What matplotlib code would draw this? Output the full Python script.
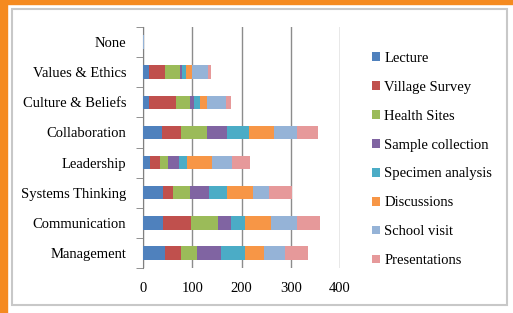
import numpy as np
import matplotlib.pyplot as plt
from matplotlib.patches import Rectangle

categories = ["None", "Values & Ethics", "Culture & Beliefs", "Collaboration",
              "Leadership", "Systems Thinking", "Communication", "Management"]
series = ["Lecture", "Village Survey", "Health Sites", "Sample collection",
          "Specimen analysis", "Discussions", "School visit", "Presentations"]

lecture       = [0, 12, 12, 39, 15, 41, 41, 44]
village       = [0, 33, 54, 38, 19, 19, 57, 34]
health        = [0, 30, 30, 53, 16, 36, 54, 32]
sample        = [0, 5, 8, 41, 23, 39, 27, 49]
specimen      = [0, 8, 11, 45, 16, 36, 28, 48]
discussions   = [0, 12, 14, 50, 51, 53, 53, 38]
school        = [2, 32, 40, 47, 41, 32, 53, 44]
presentations = [0, 6, 9, 43, 36, 47, 46, 46]

values = [lecture, village, health, sample, specimen, discussions, school, presentations]
colors = ["#4f81bd", "#c0504d", "#9bbb59", "#8064a2", "#4bacc6", "#f79646", "#95b3d7", "#e6999a"]

plt.rcParams['font.family'] = ['Liberation Serif', 'DejaVu Serif']

fig = plt.figure(figsize=(5.13, 3.13), dpi=100)

# orange strips and grey frame
fig.patches.append(Rectangle((0, 0), 7 / 513, 1, transform=fig.transFigure,
                             color="#f58a1f", zorder=0))
fig.patches.append(Rectangle((0, 1 - 4 / 313), 1, 4 / 313, transform=fig.transFigure,
                             color="#f58a1f", zorder=0))
fig.patches.append(Rectangle((12 / 513, 8 / 313), 495 / 513, 296 / 313,
                             transform=fig.transFigure, fill=False,
                             edgecolor="#c8c8c8", lw=1.5, zorder=0))

ax = fig.add_axes([143 / 513, 1 - 268 / 313, 197 / 513, 241 / 313])
y = np.arange(len(categories))
left = np.zeros(len(categories))
for name, vals, c in zip(series, values, colors):
    ax.barh(y, vals, left=left, height=0.45, color=c, label=name, zorder=3)
    left += np.array(vals)

ax.set_xlim(0, 400)
ax.set_ylim(len(categories) - 0.5, -0.5)
ax.set_xticks([0, 100, 200, 300, 400])
ax.set_yticks(y)
ax.set_yticklabels(categories)
ax.set_yticks(np.arange(-0.5, len(categories), 1), minor=True)
ax.tick_params(axis='y', which='major', length=0, pad=12, labelsize=10.5, colors="#000000")
ax.tick_params(axis='y', which='minor', length=5, color="#808080")
ax.tick_params(axis='x', length=0, pad=10, labelsize=10.5, colors="#000000")
ax.grid(axis='x', color="#8c8c8c", lw=1, zorder=0)
for s in ["top", "right", "bottom"]:
    ax.spines[s].set_visible(False)
ax.spines["left"].set_color("#808080")

leg = fig.legend(loc="upper left", bbox_to_anchor=(366 / 513, 1 - 46 / 313),
                 frameon=False, fontsize=10.5, handlelength=0.55, handleheight=0.55,
                 handletextpad=0.3, labelspacing=1.09, borderaxespad=0)

plt.savefig("out.png", dpi=100)
